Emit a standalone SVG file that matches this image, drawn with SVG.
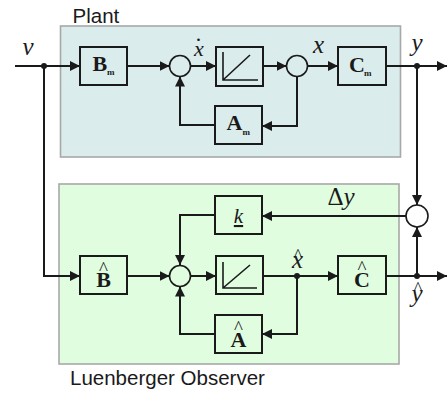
<svg xmlns="http://www.w3.org/2000/svg" width="447" height="396" viewBox="0 0 447 396">
<style>
.region{stroke:#a8a8a8;stroke-width:1.6}
.plant{fill:#dbecec}
.obs{fill:#e0fde0}
.blk{stroke:#1a1a1a;stroke-width:2}
.sum{stroke:#1a1a1a;stroke-width:1.6}
.icon{fill:none;stroke:#1a1a1a;stroke-width:1.6}
.wire{fill:none;stroke:#1a1a1a;stroke-width:2}
.arr{marker-end:url(#ah)}
.title{font-family:"Liberation Sans",Arial,sans-serif;font-size:20.5px;fill:#1a1a1a}
.var{font-family:"Liberation Serif","Times New Roman",serif;font-style:italic;font-size:25px;fill:#1a1a1a;text-anchor:middle}
.mat{font-family:"Liberation Serif","Times New Roman",serif;font-weight:bold;font-size:22px;fill:#1a1a1a}
.sub{font-family:"Liberation Serif","Times New Roman",serif;font-weight:bold;font-size:9px;fill:#1a1a1a}
.hat{font-family:"Liberation Serif","Times New Roman",serif;font-style:normal;font-weight:normal;font-size:19px;fill:#1a1a1a}
</style>
<defs>
<marker id="ah" viewBox="0 0 10 10" refX="10" refY="5" markerWidth="10" markerHeight="10" markerUnits="userSpaceOnUse" orient="auto">
<path d="M0,0 L10,5 L0,10 z" fill="#1a1a1a"/>
</marker>
</defs>

<g id="plant-region">
<rect class="region plant" x="60.5" y="26" width="340" height="131"/>
<text class="title" x="72.5" y="22.5">Plant</text>
</g>
<g id="observer-region">
<rect class="region obs" x="59" y="184" width="340" height="180"/>
<text class="title" x="70" y="385">Luenberger Observer</text>
</g>

<g id="connectors">
<path class="wire arr" d="M15,66 H80"/>
<path class="wire arr" d="M127,66 H169.5"/>
<path class="wire arr" d="M190.5,66 H216"/>
<path class="wire arr" d="M263,66 H286.5"/>
<path class="wire arr" d="M307.5,66 H338"/>
<path class="wire arr" d="M297,76.5 V126 H262"/>
<path class="wire arr" d="M215,125 H180 V76.5"/>
<path class="wire arr" d="M386,66 H447"/>
<path class="wire arr" d="M417,66 V205"/>
<path class="wire arr" d="M406,216 H262"/>
<path class="wire arr" d="M215,215 H180 V265"/>
<path class="wire arr" d="M44,66 V276 H80"/>
<path class="wire arr" d="M127,276 H169.5"/>
<path class="wire arr" d="M190.5,276 H216"/>
<path class="wire arr" d="M263,276 H338"/>
<path class="wire arr" d="M297,276 V334 H262"/>
<path class="wire arr" d="M215,334 H180 V286.5"/>
<path class="wire arr" d="M386,276 H447"/>
<path class="wire arr" d="M417,276 V227"/>
<circle cx="44" cy="66" r="3" fill="#1a1a1a"/>
<circle cx="417" cy="66" r="3" fill="#1a1a1a"/>
<circle cx="297" cy="276" r="3" fill="#1a1a1a"/>
<circle cx="417" cy="276" r="3" fill="#1a1a1a"/>
</g>

<g id="label-v"><text class="var" x="28" y="55">v</text></g>
<g id="label-xdot"><text class="var" style="font-size:22px"><tspan x="199" y="41">.</tspan><tspan x="199" y="56">x</tspan></text></g>
<g id="label-x"><text class="var" x="318.5" y="53">x</text></g>
<g id="label-y"><text class="var" x="417" y="51">y</text></g>
<g id="label-dy"><text class="var" x="341" y="205"><tspan style="font-style:normal">Δ</tspan>y</text></g>
<g id="label-xhat"><text class="var"><tspan class="hat" x="298" y="262">^</tspan><tspan x="297.5" y="268">x</tspan></text></g>
<g id="label-yhat"><text class="var"><tspan class="hat" x="418" y="295">^</tspan><tspan x="417" y="302">y</tspan></text></g>

<g id="Bm">
<rect class="blk plant" x="80" y="47" width="47" height="38"/>
<text class="mat" x="92.5" y="70.5">B<tspan class="sub" x="107" y="74.5">m</tspan></text>
</g>
<g id="sum1"><circle class="sum plant" cx="180" cy="66" r="10.5"/></g>
<g id="int1">
<rect class="blk plant" x="216" y="47" width="47" height="39"/>
<path class="icon" d="M223,52 V80 H258 M223,80 L250,55"/>
</g>
<g id="sum2"><circle class="sum plant" cx="297" cy="66" r="10.5"/></g>
<g id="Cm">
<rect class="blk plant" x="338" y="47" width="48" height="38"/>
<text class="mat" x="349" y="71.5">C<tspan class="sub" x="364" y="75.5">m</tspan></text>
</g>
<g id="Am">
<rect class="blk plant" x="215" y="106" width="47" height="38"/>
<text class="mat" x="226.5" y="130">A<tspan class="sub" x="242.5" y="134.5">m</tspan></text>
</g>

<g id="sum3"><circle class="sum" fill="#ffffff" cx="417" cy="216" r="11"/></g>
<g id="k">
<rect class="blk obs" x="215" y="196" width="47" height="38"/>
<text class="var" x="238.5" y="223" style="font-size:21px;text-decoration:underline">k</text>
</g>
<g id="Bhat">
<rect class="blk obs" x="80" y="256" width="47" height="38"/>
<text class="mat" text-anchor="middle"><tspan class="hat" x="103.5" y="275">^</tspan><tspan x="103.5" y="287">B</tspan></text>
</g>
<g id="sum4"><circle class="sum obs" cx="180" cy="276" r="10.5"/></g>
<g id="int2">
<rect class="blk obs" x="216" y="256" width="47" height="38"/>
<path class="icon" d="M223,262 V288 H257 M223,288 L250,265"/>
</g>
<g id="Chat">
<rect class="blk obs" x="338" y="256" width="48" height="38"/>
<text class="mat" text-anchor="middle"><tspan class="hat" x="362" y="274">^</tspan><tspan x="362" y="287">C</tspan></text>
</g>
<g id="Ahat">
<rect class="blk obs" x="215" y="315" width="47" height="38"/>
<text class="mat" text-anchor="middle"><tspan class="hat" x="238.5" y="334">^</tspan><tspan x="238.5" y="347">A</tspan></text>
</g>
</svg>
